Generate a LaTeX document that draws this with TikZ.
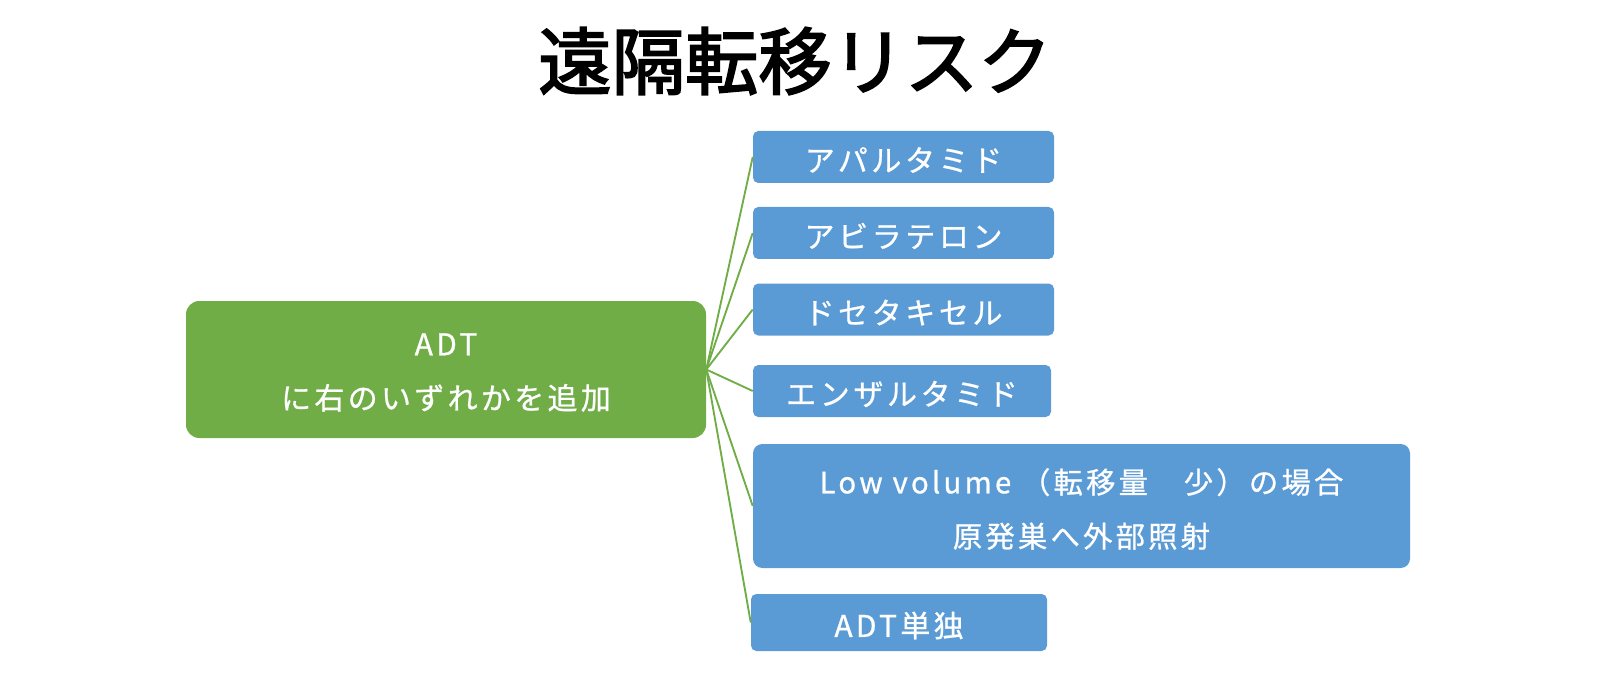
\documentclass[tikz,border=0pt]{standalone}
\usepackage{fontspec}
\setmainfont{Noto Sans CJK JP}
\newfontfamily\jptitle{Noto Sans CJK JP}[FakeBold=2.5]
\newfontfamily\jpwide{Noto Sans CJK JP}[LetterSpace=12,FakeBold=0.8]
\newfontfamily\jpmid{Noto Sans CJK JP}[LetterSpace=11,FakeBold=0.8]
\newcommand\lowtext[1]{\raisebox{-2.25pt}[\height][\depth]{#1}}
\definecolor{boxgreen}{HTML}{70AD47}
\definecolor{boxblue}{HTML}{5B9BD5}
\tikzset{
  greenbox/.style={fill=boxgreen, rounded corners=10pt, text=white, align=center,
    minimum width=390pt, minimum height=102.75pt, inner sep=0pt,
    font=\jpmid\fontsize{22.5pt}{40.5pt}\selectfont},
  bluebox/.style={fill=boxblue, rounded corners=4pt, text=white, align=center,
    minimum height=39pt, inner sep=0pt, font=\jpwide\fontsize{22.5pt}{27pt}\selectfont},
  bigblue/.style={fill=boxblue, rounded corners=7pt, text=white, align=center,
    minimum width=492.75pt, minimum height=93pt, inner sep=0pt,
    font=\jpmid\fontsize{22pt}{40.5pt}\selectfont},
  link/.style={draw=boxgreen, line width=1.4pt}
}
\begin{document}
\begin{tikzpicture}[x=0.75pt,y=-0.75pt]
\useasboundingbox (0,0) rectangle (1598,677);
\node[font=\jptitle\fontsize{55pt}{60pt}\selectfont] (title) at (795,61) {遠隔転移リスク};
\node[greenbox] (main) at (446,369.5) {\lowtext{ADT}\\\lowtext{に右のいずれかを追加}};
\node[bluebox, minimum width=225.75pt] (b1) at (903.5,157) {\lowtext{アパルタミド}};
\node[bluebox, minimum width=225.75pt] (b2) at (903.5,233) {\lowtext{アビラテロン}};
\node[bluebox, minimum width=225.75pt] (b3) at (903.5,309.5) {\lowtext{ドセタキセル}};
\node[bluebox, minimum width=223.5pt] (b4) at (902,391) {\lowtext{エンザルタミド}};
\node[bigblue] (b5) at (1081.5,506) {\lowtext{Low volume （転移量　少）の場合}\\\lowtext{原発巣へ外部照射}};
\node[bluebox, minimum width=222pt, minimum height=42.75pt, font=\jpmid\fontsize{22.5pt}{27pt}\selectfont] (b6) at (899,622.5) {\lowtext{ADT単独}};
\foreach \b in {b1,b2,b3,b4,b5,b6}
  \draw[link] (main.east) -- (\b.west);
\end{tikzpicture}
\end{document}
